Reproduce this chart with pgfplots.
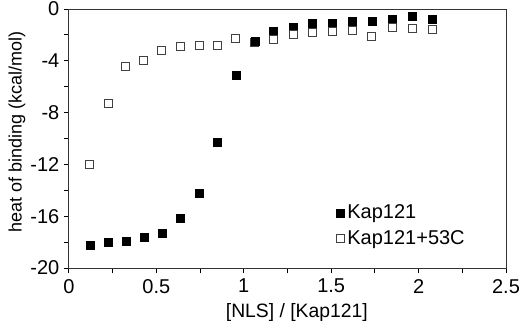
\documentclass[border=0pt]{standalone}
\usepackage{fontspec}
\setmainfont{Liberation Sans}
\usepackage{pgfplots}
\pgfplotsset{compat=1.18}
\begin{document}
\begin{tikzpicture}
\begin{axis}[
  at={(0,0)}, anchor=south west,
  scale only axis,
  width=327.75pt, height=194.25pt,
  xmin=0, xmax=2.5, ymin=-20, ymax=0,
  xtick={0,0.5,1,1.5,2,2.5},
  xticklabels={0,0.5,1,1.5,2,2.5},
  ytick={-20,-16,-12,-8,-4,0},
  yticklabels={-20,-16,-12,-8,-4,0},
  minor xtick={0.25,0.75,1.25,1.75,2.25},
  minor ytick={-18,-14,-10,-6,-2},
  tick pos=left,
  tick align=outside,
  major tick length=3.75pt,
  minor tick length=3.75pt,
  every tick/.style={black, line width=0.75pt},
  axis line style={black!80, line width=0.75pt},
  tick label style={font=\fontsize{15}{17}\selectfont},
  xticklabel style={yshift=-1pt},
  xlabel={[NLS] / [Kap121]},
  ylabel={heat of binding (kcal/mol)},
  xlabel style={font=\fontsize{14.5}{16}\selectfont, at={(axis description cs:0.5,0)}, anchor=center, yshift=-33.5pt, xshift=7pt},
  ylabel style={font=\fontsize{13.5}{16}\selectfont, at={(axis description cs:0,0.5)}, anchor=center, yshift=39pt, xshift=5pt},
  legend style={at={(rel axis cs:0.612,0.255)}, anchor=north west, draw=none, fill=none,
    font=\fontsize{15}{17}\selectfont, row sep=3pt, inner sep=0pt},
  legend cell align=left,
  legend image post style={mark size=3pt},
]
\addplot[only marks, mark=square*, mark size=3pt, mark options={draw=black!75, fill=white, line width=0.75pt}] coordinates {
  (1.064,-2.55)
};
\addplot[only marks, mark=square*, mark size=3pt, mark options={draw=black, fill=black}] coordinates {
  (0.124,-18.25) (0.225,-17.99) (0.326,-17.92) (0.429,-17.6) (0.532,-17.3)
  (0.637,-16.19) (0.744,-14.23) (0.848,-10.3) (0.955,-5.15) (1.064,-2.52)
  (1.169,-1.70) (1.283,-1.44) (1.394,-1.10) (1.506,-1.10) (1.619,-0.93)
  (1.733,-0.98) (1.850,-0.80) (1.964,-0.59) (2.081,-0.77)
};
\addplot[only marks, mark=square*, mark size=3pt, mark options={draw=black!75, fill=white, line width=0.75pt}] coordinates {
  (0.120,-11.97) (0.225,-7.31) (0.326,-4.45) (0.429,-4.0) (0.532,-3.19)
  (0.637,-2.93) (0.744,-2.78) (0.848,-2.8) (0.955,-2.24)
  (1.169,-2.39) (1.283,-1.95) (1.394,-1.83) (1.506,-1.70) (1.619,-1.68)
  (1.733,-2.09) (1.850,-1.44) (1.964,-1.52) (2.081,-1.62)
};
\legend{,Kap121,Kap121+53C}
\end{axis}
\pgfresetboundingbox
\path (-51.75pt,-45pt) rectangle (338.25pt,201pt);
\end{tikzpicture}
\end{document}
